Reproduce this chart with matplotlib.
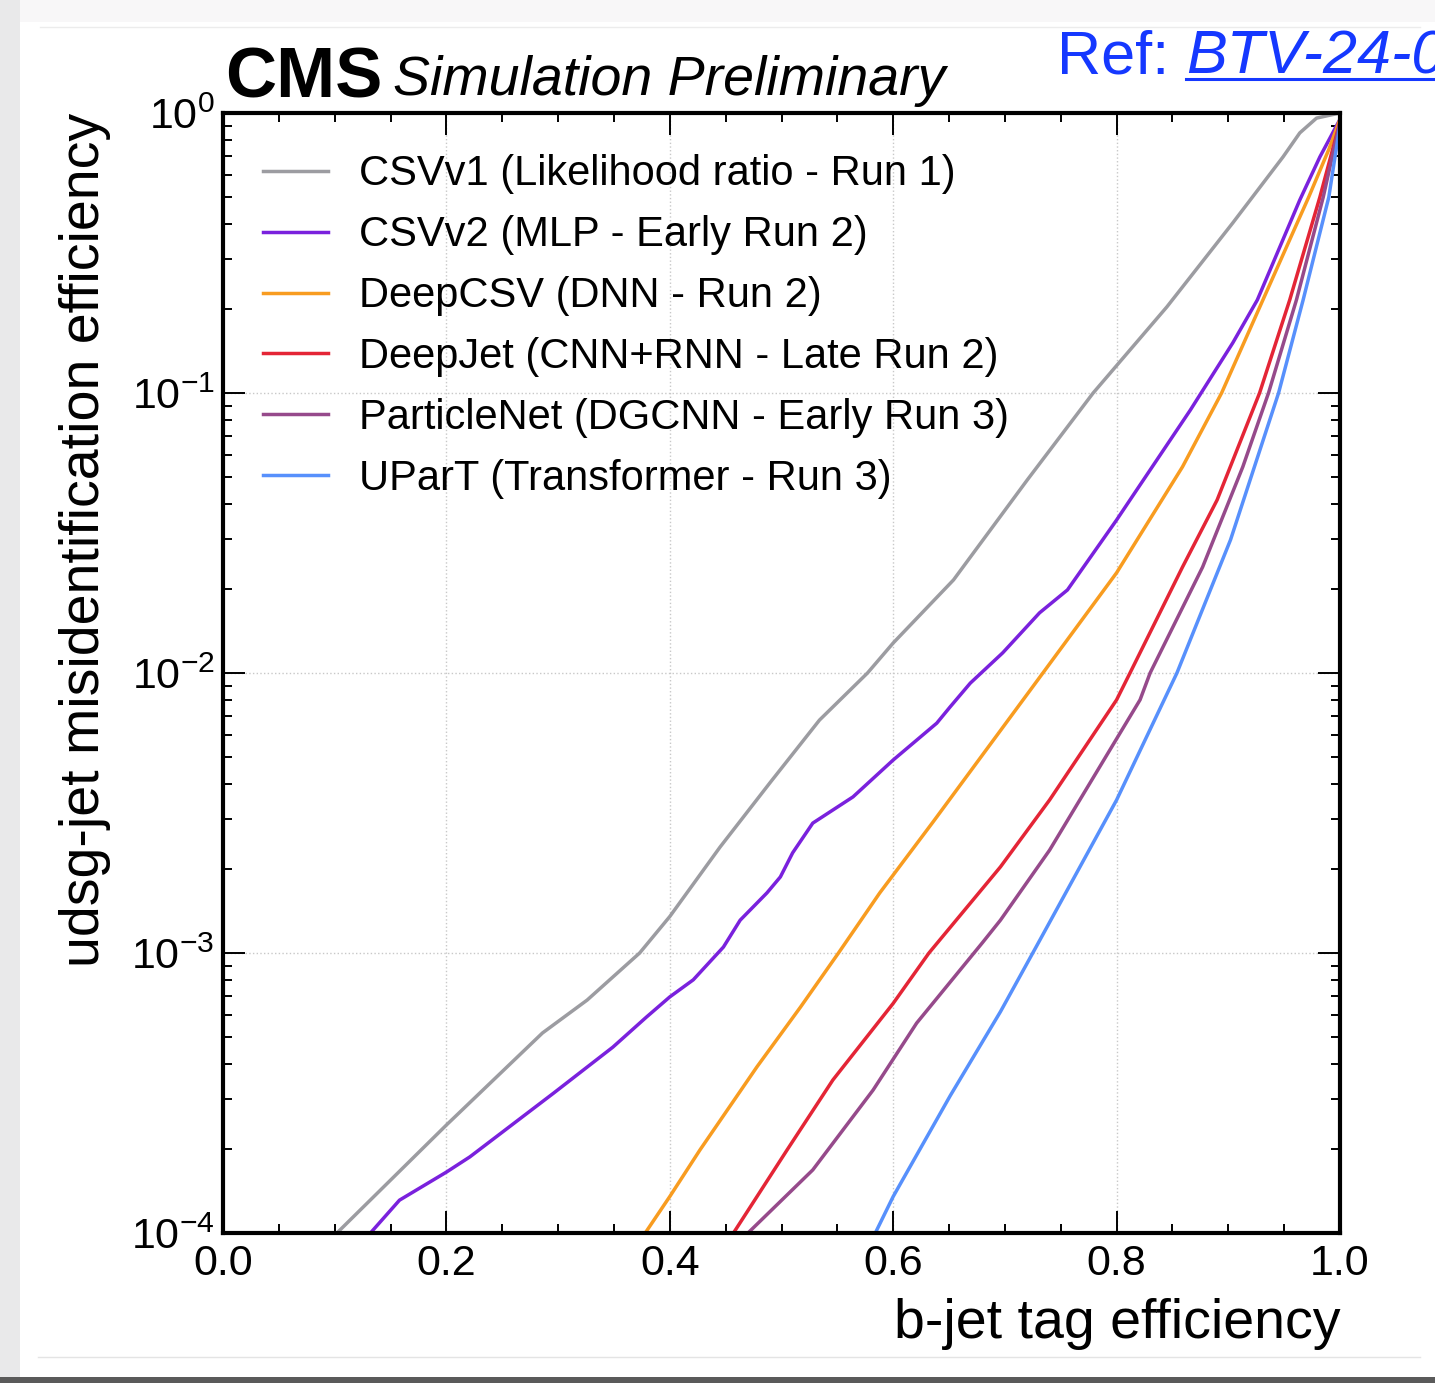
import numpy as np
import matplotlib
matplotlib.use("Agg")
import matplotlib.pyplot as plt
from matplotlib.ticker import MultipleLocator, FormatStrFormatter, LogLocator
from matplotlib.lines import Line2D
from matplotlib.patches import Rectangle

plt.rcParams['font.family'] = ['Liberation Sans', 'DejaVu Sans']
plt.rcParams['mathtext.default'] = 'regular'

# ROC curves: b-jet efficiency vs udsg mistag rate
labels = [
    "CSVv1 (Likelihood ratio - Run 1)",
    "CSVv2 (MLP - Early Run 2)",
    "DeepCSV (DNN - Run 2)",
    "DeepJet (CNN+RNN - Late Run 2)",
    "ParticleNet (DGCNN - Early Run 3)",
    "UParT (Transformer - Run 3)",
]
colors = ["#9c9ca1", "#7a21dd", "#f89c20", "#e42536", "#964a8b", "#5790fc"]

csvv1_eff = [0.102, 0.200, 0.286, 0.326, 0.373, 0.400, 0.445, 0.490, 0.534, 0.577,
             0.600, 0.654, 0.720, 0.779, 0.845, 0.904, 0.949, 0.964, 0.979, 1.0]
csvv1_mis = [1.0e-4, 2.43e-4, 5.18e-4, 6.79e-4, 1.0e-3, 1.35e-3, 2.39e-3, 4.07e-3, 6.79e-3, 1.0e-2,
             1.28e-2, 2.15e-2, 4.89e-2, 0.100, 0.203, 0.405, 0.697, 0.849, 0.959, 1.0]

csvv2_eff = [0.132, 0.158, 0.200, 0.221, 0.296, 0.349, 0.379, 0.400, 0.421, 0.448, 0.463, 0.487,
             0.499, 0.510, 0.528, 0.564, 0.600, 0.639, 0.651, 0.669, 0.698, 0.731, 0.756, 0.800,
             0.812, 0.866, 0.904, 0.926, 0.964, 0.982, 1.0]
csvv2_mis = [1.0e-4, 1.31e-4, 1.65e-4, 1.87e-4, 3.16e-4, 4.61e-4, 5.90e-4, 6.97e-4, 8.02e-4, 1.05e-3,
             1.31e-3, 1.64e-3, 1.87e-3, 2.28e-3, 2.91e-3, 3.61e-3, 4.89e-3, 6.62e-3, 7.57e-3, 9.20e-3,
             1.18e-2, 1.64e-2, 1.98e-2, 3.52e-2, 4.15e-2, 8.69e-2, 0.151, 0.215, 0.489, 0.697, 0.95]

deepcsv_eff = [0.378, 0.400, 0.427, 0.478, 0.517, 0.551, 0.588, 0.636, 0.734, 0.800,
               0.859, 0.894, 0.931, 0.972, 0.990, 1.0]
deepcsv_mis = [1.0e-4, 1.35e-4, 1.98e-4, 3.92e-4, 6.41e-4, 1.0e-3, 1.64e-3, 2.95e-3, 1.0e-2,
               2.28e-2, 5.45e-2, 0.100, 0.215, 0.501, 0.741, 0.95]

deepjet_eff = [0.457, 0.505, 0.546, 0.600, 0.632, 0.696, 0.740, 0.800, 0.812, 0.859, 0.890,
               0.928, 0.955, 0.982, 1.0]
deepjet_mis = [1.0e-4, 1.98e-4, 3.52e-4, 6.61e-4, 1.0e-3, 2.03e-3, 3.52e-3, 8.02e-3, 1.0e-2,
               2.39e-2, 4.15e-2, 0.100, 0.215, 0.501, 0.93]

pnet_eff = [0.470, 0.528, 0.582, 0.621, 0.680, 0.696, 0.740, 0.821, 0.830, 0.877, 0.913,
            0.936, 0.961, 0.985, 1.0]
pnet_mis = [1.0e-4, 1.68e-4, 3.24e-4, 5.62e-4, 1.09e-3, 1.31e-3, 2.33e-3, 8.02e-3, 1.0e-2,
            2.39e-2, 5.45e-2, 0.100, 0.215, 0.501, 0.93]

upart_eff = [0.584, 0.600, 0.651, 0.696, 0.729, 0.800, 0.854, 0.902, 0.945, 0.967, 0.990, 1.0]
upart_mis = [1.0e-4, 1.35e-4, 3.09e-4, 6.17e-4, 1.07e-3, 3.52e-3, 1.0e-2, 2.99e-2, 0.100,
             0.215, 0.501, 0.91]

curves = [(csvv1_eff, csvv1_mis), (csvv2_eff, csvv2_mis), (deepcsv_eff, deepcsv_mis),
          (deepjet_eff, deepjet_mis), (pnet_eff, pnet_mis), (upart_eff, upart_mis)]

W, H = 1435, 1383
fig = plt.figure(figsize=(W / 100, H / 100), dpi=100)
fig.patch.set_facecolor("#e9e9ea")

# screenshot card background
fig.patches.append(Rectangle((20 / W, 6 / H), 1 - 20 / W, 1 - 6 / H - 22 / H,
                             transform=fig.transFigure, facecolor="white",
                             edgecolor="none", zorder=-10))
fig.patches.append(Rectangle((20 / W, 1 - 22 / H), 1 - 20 / W, 22 / H,
                             transform=fig.transFigure, facecolor="#f8f7f8",
                             edgecolor="none", zorder=-10))
fig.patches.append(Rectangle((0, 0), 1, 6 / H, transform=fig.transFigure,
                             facecolor="#5a5a5a", edgecolor="none", zorder=-9))
fig.lines.append(Line2D([38 / W, 1420 / W], [1 - 1357 / H] * 2, transform=fig.transFigure,
                        color="#e4e4e4", lw=1))
fig.lines.append(Line2D([40 / W, 1420 / W], [1 - 27 / H] * 2, transform=fig.transFigure,
                        color="#ececec", lw=1))

ax = fig.add_axes([223 / W, 1 - 1233 / H, 1117 / W, 1120 / H])
ax.set_facecolor("none")

for (x, y), lab, c in zip(curves, labels, colors):
    ax.plot(x, y, color=c, lw=2.5, label=lab, solid_joinstyle="round")

ax.set_yscale("log")
ax.set_xlim(0, 1)
ax.set_ylim(1e-4, 1)

ax.xaxis.set_major_locator(MultipleLocator(0.2))
ax.xaxis.set_minor_locator(MultipleLocator(0.05))
ax.xaxis.set_major_formatter(FormatStrFormatter("%.1f"))
ax.yaxis.set_major_locator(LogLocator(base=10, numticks=10))
ax.yaxis.set_minor_locator(LogLocator(base=10, subs=np.arange(2, 10), numticks=20))

ax.tick_params(which="both", direction="in", top=True, right=True, labelsize=31, width=1.4)
ax.tick_params(which="major", length=16, pad=8)
ax.tick_params(which="minor", length=6.5)
ax.tick_params(axis="y", pad=6)
for s in ax.spines.values():
    s.set_linewidth(3)

ax.grid(True, which="major", color="#c8c8c8", linestyle=":", linewidth=1)
ax.set_axisbelow(True)

ax.set_xlabel("b-jet tag efficiency", fontsize=40, loc="right")
ax.xaxis.set_label_coords(1.0, -0.058)
ax.set_ylabel("udsg-jet misidentification efficiency", fontsize=40, loc="top")
ax.yaxis.set_label_coords(-0.10, 1.0)

ax.legend(loc="upper left", bbox_to_anchor=(0.0358, 0.963), frameon=False, fontsize=30,
          handlelength=1.56, handletextpad=0.74, labelspacing=0.50,
          borderaxespad=0, borderpad=0)

fig.text(225 / W, 1 - 97 / H, "CMS", fontsize=51, fontweight="bold", va="baseline")
fig.text(393 / W, 1 - 95 / H, "Simulation Preliminary", fontsize=40, style="italic",
         va="baseline")

blue = "#1538ff"
t1 = fig.text(1057 / W, 1 - 74 / H, "Ref: ", fontsize=44, color=blue, va="baseline")
fig.canvas.draw()
bb = t1.get_window_extent()
x_ref = bb.x1 / W
fig.text(x_ref, 1 - 74 / H, "BTV-24-001", fontsize=44, color=blue, style="italic",
         va="baseline")
fig.lines.append(Line2D([x_ref, 1.0], [1 - 79 / H] * 2, transform=fig.transFigure,
                        color=blue, lw=2.2))

fig.savefig("out.png", dpi=100, facecolor=fig.get_facecolor())
